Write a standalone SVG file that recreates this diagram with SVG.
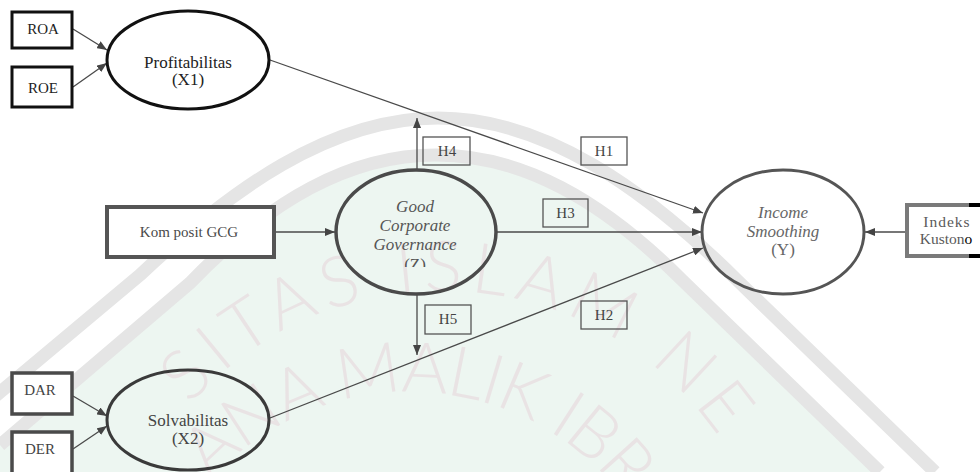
<svg xmlns="http://www.w3.org/2000/svg" width="980" height="472" viewBox="0 0 980 472">
  <style>
    .serif { font-family: "Liberation Serif", "Times New Roman", serif; }
    .box { fill: #ffffff; }
    .lbl { fill: none; stroke: #555555; stroke-width: 1.3; }
    .lbltxt { font-size: 15px; fill: #444444; text-anchor: middle; }
    .conn { stroke: #4a4a4a; stroke-width: 1.3; fill: none; marker-end: url(#arrow); }
    .nodetxt { font-size: 17px; text-anchor: middle; }
    .wm-band { fill: none; stroke: #e5e5e5; stroke-width: 13; }
    .wm-text { font-family: Lato, "Open Sans", sans-serif; font-weight: 300; font-size: 70px; fill: #e9e3e4; }
  </style>
  <defs>
    <marker id="arrow" markerUnits="userSpaceOnUse" markerWidth="11" markerHeight="8" refX="10" refY="4" orient="auto">
      <path d="M0,0 L10,4 L0,8 z" fill="#444444"/>
    </marker>
    <clipPath id="zclip">
      <rect x="330" y="190" width="170" height="77"/>
    </clipPath>
    <path id="wm-arc-outer" d="M190,405 A335,335 0 0 1 730,455"/>
    <path id="wm-arc-inner" d="M210.8,480.7 A268,268 0 0 1 629.5,506.3"/>
  </defs>

  <!-- page background -->
  <rect width="980" height="472" fill="#ffffff"/>

  <!-- faint background emblem -->
  <g id="watermark">
    <path d="M0,445 L190,283 C270,200 350,155 436,155 C522,155 602,200 682,280 L880,472 L0,472 Z" fill="#edf6f1"/>
    <path class="wm-band" d="M-45,430 L140,275 C230,190 330,118 438,118 C546,118 646,190 737,280 L935,472"/>
    <path class="wm-band" d="M0,445 L190,283 C270,200 350,155 436,155 C522,155 602,200 682,280 L880,472" stroke="#eaeaea"/>
    <text class="wm-text"><textPath href="#wm-arc-outer" textLength="610" lengthAdjust="spacing">SITAS ISLAM NE</textPath></text>
    <text class="wm-text"><textPath href="#wm-arc-inner" textLength="470" lengthAdjust="spacing">ANA MALIK IBR</textPath></text>
  </g>

  <!-- connectors -->
  <g id="connectors">
    <line class="conn" x1="73" y1="29" x2="107" y2="50"/>
    <line class="conn" x1="73" y1="87" x2="107" y2="63"/>
    <line class="conn" x1="270" y1="60" x2="703" y2="213"/>
    <line class="conn" x1="417" y1="170" x2="417" y2="118"/>
    <line class="conn" x1="275" y1="232" x2="335" y2="232"/>
    <line class="conn" x1="496" y1="232" x2="702" y2="232"/>
    <line class="conn" x1="417" y1="295" x2="417" y2="355"/>
    <line class="conn" x1="270" y1="418" x2="703" y2="248"/>
    <line class="conn" x1="73" y1="396" x2="107" y2="416"/>
    <line class="conn" x1="73" y1="449" x2="107" y2="426"/>
    <line class="conn" x1="907" y1="232" x2="865" y2="232"/>
  </g>

  <!-- hypothesis labels -->
  <g id="label-h4">
    <rect class="lbl" x="423" y="137" width="47" height="28"/>
    <text class="serif lbltxt" x="447" y="156">H4</text>
  </g>
  <g id="label-h1">
    <rect class="lbl" x="581" y="137" width="46" height="28"/>
    <text class="serif lbltxt" x="604" y="156">H1</text>
  </g>
  <g id="label-h3">
    <rect class="lbl" x="543" y="199" width="45" height="28"/>
    <text class="serif lbltxt" x="565.5" y="218">H3</text>
  </g>
  <g id="label-h5">
    <rect class="lbl" x="425" y="305" width="46" height="29"/>
    <text class="serif lbltxt" x="448" y="324">H5</text>
  </g>
  <g id="label-h2">
    <rect class="lbl" x="581" y="301" width="46" height="28"/>
    <text class="serif lbltxt" x="604" y="320">H2</text>
  </g>

  <!-- indicators -->
  <g id="node-roa">
    <rect class="box" x="12" y="12" width="60" height="36" stroke="#111111" stroke-width="3"/>
    <text class="serif" x="43" y="34" font-size="15" fill="#222222" text-anchor="middle">ROA</text>
  </g>
  <g id="node-roe">
    <rect class="box" x="12" y="67" width="60" height="40" stroke="#111111" stroke-width="3"/>
    <text class="serif" x="43" y="93" font-size="15" fill="#222222" text-anchor="middle">ROE</text>
  </g>
  <g id="node-komposit">
    <rect class="box" x="107" y="207" width="167" height="50" stroke="#555555" stroke-width="4"/>
    <text class="serif" x="189" y="237" font-size="15" fill="#4a4a4a" text-anchor="middle">Kom posit GCG</text>
  </g>
  <g id="node-dar">
    <rect class="box" x="12" y="373" width="60" height="41" stroke="#4a4a4a" stroke-width="3.5"/>
    <text class="serif" x="40" y="395" font-size="15" fill="#444444" text-anchor="middle">DAR</text>
  </g>
  <g id="node-der">
    <rect class="box" x="12" y="432" width="60" height="44" stroke="#4a4a4a" stroke-width="3.5"/>
    <text class="serif" x="40" y="454" font-size="15" fill="#444444" text-anchor="middle">DER</text>
  </g>
  <g id="node-indeks">
    <rect class="box" x="907" y="205" width="90" height="51" stroke="#7a7a7a" stroke-width="4"/>
    <line x1="969" y1="205" x2="980" y2="205" stroke="#000000" stroke-width="4"/>
    <line x1="969" y1="256" x2="980" y2="256" stroke="#000000" stroke-width="4"/>
    <text class="serif" x="947" y="227" font-size="15.5" fill="#5a5a5a" text-anchor="middle" letter-spacing="1">Indeks</text>
    <text class="serif" x="946" y="244" font-size="15.5" fill="#5a5a5a" text-anchor="middle">Kuston<tspan fill="#000000">o</tspan></text>
  </g>

  <!-- latent constructs -->
  <g id="node-profitabilitas">
    <ellipse cx="188" cy="60" rx="81" ry="49" fill="none" stroke="#111111" stroke-width="3"/>
    <text class="serif nodetxt" x="188" y="68" fill="#222222">Profitabilitas</text>
    <text class="serif nodetxt" x="188" y="85" fill="#222222">(X1)</text>
  </g>
  <g id="node-gcg">
    <ellipse cx="416" cy="232" rx="80" ry="62" fill="none" stroke="#4a4a4a" stroke-width="3.5"/>
    <g class="serif nodetxt" font-style="italic" fill="#555555">
      <text x="415" y="212">Good</text>
      <text x="415" y="231">Corporate</text>
      <text x="415" y="250">Governance</text>
      <text x="415" y="270" clip-path="url(#zclip)" font-style="normal">(Z)</text>
    </g>
  </g>
  <g id="node-income">
    <ellipse cx="783" cy="232" rx="81" ry="62" fill="none" stroke="#555555" stroke-width="3"/>
    <g class="serif nodetxt" fill="#666666">
      <text x="783" y="218" font-style="italic">Income</text>
      <text x="783" y="237" font-style="italic">Smoothing</text>
      <text x="783" y="255">(Y)</text>
    </g>
  </g>
  <g id="node-solvabilitas">
    <ellipse cx="188" cy="420" rx="81" ry="50" fill="none" stroke="#3a3a3a" stroke-width="3"/>
    <text class="serif nodetxt" x="188" y="426" fill="#444444">Solvabilitas</text>
    <text class="serif nodetxt" x="188" y="444" fill="#444444">(X2)</text>
  </g>
</svg>
